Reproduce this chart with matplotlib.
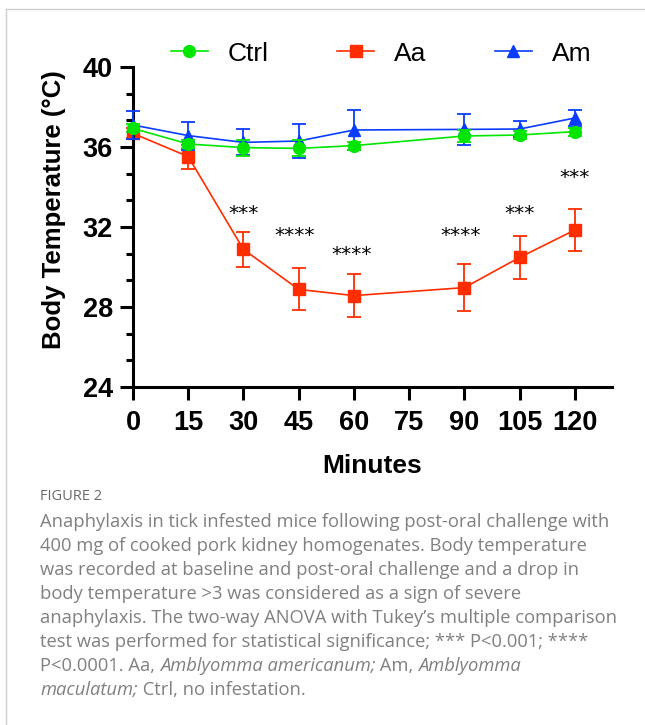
import matplotlib
matplotlib.use("Agg")
import matplotlib.pyplot as plt
from matplotlib.ticker import AutoMinorLocator, MultipleLocator

# data (mean +/- error)
minutes = [0, 15, 30, 45, 60, 90, 105, 120]
ctrl_mean = [36.93, 36.15, 35.97, 35.93, 36.07, 36.55, 36.60, 36.77]
ctrl_err = [0.20, 0.20, 0.40, 0.40, 0.20, 0.30, 0.20, 0.20]
aa_mean = [36.68, 35.52, 30.88, 28.88, 28.57, 28.97, 30.48, 31.85]
aa_err = [0.25, 0.60, 0.88, 1.05, 1.07, 1.17, 1.07, 1.04]
am_mean = [37.10, 36.57, 36.23, 36.30, 36.85, 36.88, 36.90, 37.45]
am_err = [0.70, 0.70, 0.65, 0.87, 1.00, 0.77, 0.40, 0.40]

star_x = [30, 44, 59.5, 89, 105, 120]
star_y = [32.7, 31.6, 30.65, 31.6, 32.7, 34.5]
star_text = ["***", "****", "****", "****", "***", "***"]

x_ticks = [0, 15, 30, 45, 60, 75, 90, 105, 120]

caption_title = "FIGURE 2"
caption_lines = [
    [("Anaphylaxis in tick infested mice following post-oral challenge with", "normal")],
    [("400 mg of cooked pork kidney homogenates. Body temperature", "normal")],
    [("was recorded at baseline and post-oral challenge and a drop in", "normal")],
    [("body temperature >3 was considered as a sign of severe", "normal")],
    [("anaphylaxis. The two-way ANOVA with Tukey\u2019s multiple comparison", "normal")],
    [("test was performed for statistical significance; *** P<0.001; ****", "normal")],
    [("P<0.0001. Aa, ", "normal"), ("Amblyomma americanum;", "italic"),
     (" Am, ", "normal"), ("Amblyomma", "italic")],
    [("maculatum;", "italic"), (" Ctrl, no infestation.", "normal")],
]

plt.rcParams["font.family"] = ["Liberation Sans", "DejaVu Sans"]

fig = plt.figure(figsize=(6.45, 7.25), dpi=100)
ax = fig.add_axes([133 / 645, 1 - 387 / 725, (611.7 - 133) / 645, 320 / 725])

series = [
    ("Ctrl", ctrl_mean, ctrl_err, "#00e600", "o", 8.5, 4),
    ("Aa", aa_mean, aa_err, "#ff2d00", "s", 8.0, 2),
    ("Am", am_mean, am_err, "#0a3cff", "^", 8.0, 3),
]
handles = []
for label, mean, err, color, marker, ms, z in series:
    cont = ax.errorbar(minutes, mean, yerr=err, color=color, marker=marker,
                       markersize=ms, linewidth=1.2, elinewidth=1.3,
                       capsize=4.8, capthick=1.3, zorder=z)
    for art in cont.get_children():
        art.set_clip_on(False)
        art.set_zorder(z)
    handles.append(cont[0])

for sx, sy, st in zip(star_x, star_y, star_text):
    ax.text(sx, sy, st, ha="center", va="center", fontsize=14.5,
            family="DejaVu Sans", color="black")

ax.set_xlim(0, 130)
ax.set_ylim(24, 40)
ax.set_xticks(x_ticks)
ax.yaxis.set_major_locator(MultipleLocator(4))
ax.yaxis.set_minor_locator(AutoMinorLocator(3))
ax.spines["top"].set_visible(False)
ax.spines["right"].set_visible(False)
for sp in ("left", "bottom"):
    ax.spines[sp].set_linewidth(2.2)
ax.tick_params(axis="both", which="major", length=9.5, width=2.2,
               labelsize=19.5)
ax.tick_params(axis="x", which="major", pad=7)
ax.tick_params(axis="y", which="major", pad=5)
ax.tick_params(axis="y", which="minor", length=5, width=2.2)
for lab in ax.get_xticklabels() + ax.get_yticklabels():
    lab.set_fontweight("bold")

ax.set_xlabel("Minutes", fontsize=19, fontweight="bold", labelpad=13)
ax.set_ylabel("Body Temperature (\u00b0C)", fontsize=18.5, fontweight="bold")
ax.yaxis.set_label_coords(-0.14, 0.553)

ax.legend(handles, ["Ctrl", "Aa", "Am"], ncol=3, frameon=False, fontsize=19,
          loc="center", bbox_to_anchor=(0.518, 1.042), handlelength=1.4,
          handletextpad=0.75, columnspacing=2.6)

# light page border
fig.add_artist(plt.Line2D([6 / 645, 1], [1 - 9 / 725, 1 - 9 / 725],
                          color="#d0d0d0", linewidth=1))
fig.add_artist(plt.Line2D([6 / 645, 6 / 645], [0, 1 - 9 / 725],
                          color="#d0d0d0", linewidth=1))

# caption
cap_color = "#808080"
fig.text(40 / 645, 1 - 497 / 725, caption_title, fontsize=10.5,
         family="Open Sans", color="#6a6a6a", va="center")
renderer = fig.canvas.get_renderer()
for i, parts in enumerate(caption_lines):
    y = 1 - (522 + 24 * i) / 725
    x = 40 / 645
    for text, style in parts:
        t = fig.text(x, y, text, fontsize=13.2, family="Open Sans",
                     style=style, color=cap_color, va="center")
        bb = t.get_window_extent(renderer)
        x = bb.x1 / fig.bbox.width

fig.savefig("out.png", dpi=100)
